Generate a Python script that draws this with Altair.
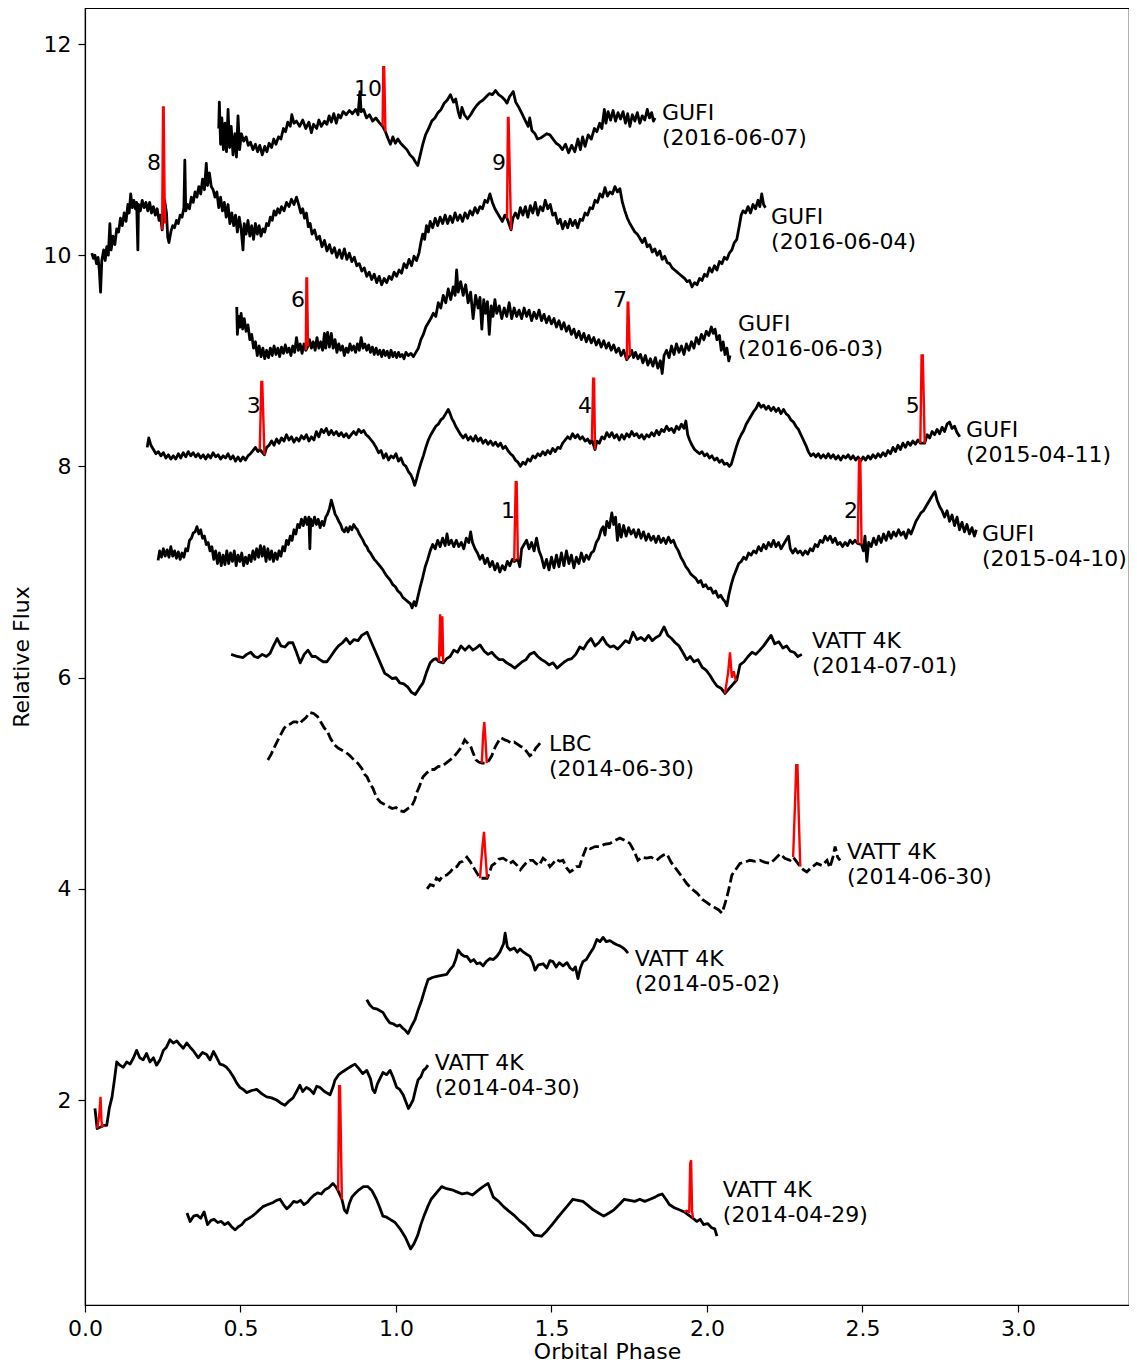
import altair as alt
import pandas as pd

# ---------------- light curves (phase, relative flux) ----------------
gufi_20160607 = [
    (0.430, 11.20), (0.432, 11.45), (0.436, 11.05), (0.440, 11.30), (0.445, 11.00), (0.450, 11.25),
    (0.455, 10.98), (0.460, 11.38), (0.465, 11.02), (0.470, 11.22), (0.476, 10.95), (0.482, 11.15),
    (0.487, 10.93), (0.492, 11.32), (0.497, 11.00), (0.503, 11.15), (0.510, 11.08), (0.518, 11.12),
    (0.525, 11.04), (0.532, 11.07), (0.540, 11.00), (0.548, 11.05), (0.555, 10.98), (0.562, 11.04),
    (0.570, 10.95), (0.578, 11.03), (0.585, 10.98), (0.592, 11.06), (0.600, 11.02), (0.607, 11.10),
    (0.614, 11.05), (0.622, 11.12), (0.630, 11.10), (0.638, 11.20), (0.645, 11.17), (0.652, 11.26),
    (0.660, 11.22), (0.665, 11.33), (0.672, 11.25), (0.680, 11.27), (0.690, 11.22), (0.700, 11.28),
    (0.710, 11.20), (0.720, 11.26), (0.728, 11.16), (0.735, 11.24), (0.745, 11.20), (0.752, 11.28),
    (0.760, 11.22), (0.770, 11.27), (0.778, 11.24), (0.785, 11.32), (0.792, 11.26), (0.800, 11.34),
    (0.808, 11.25), (0.815, 11.33), (0.822, 11.30), (0.830, 11.36), (0.840, 11.33), (0.850, 11.37),
    (0.860, 11.34), (0.870, 11.38), (0.878, 11.33), (0.884, 11.55), (0.888, 11.36), (0.896, 11.38),
    (0.905, 11.30), (0.915, 11.33), (0.925, 11.27), (0.935, 11.30), (0.945, 11.26), (0.957, 11.22),
    (0.966, 11.17), (0.975, 11.10), (0.982, 11.05), (0.990, 11.12), (0.998, 11.06), (1.006, 11.10),
    (1.015, 11.06), (1.025, 11.03), (1.035, 11.00), (1.045, 10.95), (1.055, 10.92), (1.063, 10.88),
    (1.070, 10.85), (1.078, 10.95), (1.087, 11.06), (1.095, 11.14), (1.105, 11.20), (1.115, 11.27),
    (1.125, 11.30), (1.135, 11.35), (1.145, 11.38), (1.155, 11.44), (1.165, 11.47), (1.175, 11.52),
    (1.185, 11.45), (1.192, 11.48), (1.200, 11.36), (1.206, 11.30), (1.212, 11.40), (1.220, 11.33),
    (1.230, 11.29), (1.240, 11.33), (1.250, 11.38), (1.260, 11.42), (1.270, 11.45), (1.280, 11.47),
    (1.290, 11.50), (1.300, 11.53), (1.310, 11.52), (1.320, 11.56), (1.330, 11.52), (1.340, 11.50),
    (1.350, 11.47), (1.357, 11.44), (1.365, 11.50), (1.377, 11.55), (1.385, 11.45), (1.395, 11.40),
    (1.405, 11.34), (1.415, 11.28), (1.425, 11.22), (1.430, 11.30), (1.437, 11.18), (1.447, 11.15),
    (1.455, 11.10), (1.465, 11.11), (1.475, 11.13), (1.485, 11.15), (1.495, 11.14), (1.505, 11.10),
    (1.515, 11.06), (1.525, 11.04), (1.535, 11.00), (1.545, 11.05), (1.555, 10.97), (1.565, 11.04),
    (1.575, 10.98), (1.585, 11.10), (1.593, 11.00), (1.600, 11.12), (1.608, 11.03), (1.618, 11.14),
    (1.628, 11.10), (1.638, 11.20), (1.646, 11.17), (1.655, 11.25), (1.662, 11.20), (1.670, 11.38),
    (1.675, 11.25), (1.682, 11.36), (1.690, 11.28), (1.698, 11.37), (1.706, 11.27), (1.714, 11.35),
    (1.722, 11.29), (1.730, 11.36), (1.738, 11.25), (1.745, 11.34), (1.752, 11.22), (1.760, 11.33),
    (1.768, 11.27), (1.776, 11.35), (1.784, 11.25), (1.792, 11.32), (1.800, 11.28), (1.808, 11.38),
    (1.815, 11.30), (1.822, 11.35), (1.828, 11.27), (1.833, 11.30),
]

gufi_20160604 = [
    (0.022, 10.02), (0.027, 9.97), (0.032, 10.00), (0.037, 9.92), (0.042, 9.98), (0.046, 9.86),
    (0.050, 9.65), (0.054, 9.95), (0.060, 10.05), (0.065, 9.95), (0.070, 10.08), (0.075, 10.00),
    (0.080, 10.30), (0.084, 10.05), (0.090, 10.18), (0.096, 10.10), (0.102, 10.25), (0.108, 10.22),
    (0.114, 10.35), (0.120, 10.28), (0.126, 10.40), (0.132, 10.32), (0.138, 10.48), (0.142, 10.40),
    (0.147, 10.58), (0.152, 10.45), (0.157, 10.52), (0.162, 10.44), (0.166, 10.50), (0.170, 10.05),
    (0.172, 10.48), (0.178, 10.42), (0.184, 10.52), (0.190, 10.45), (0.196, 10.50), (0.202, 10.42),
    (0.208, 10.50), (0.214, 10.40), (0.220, 10.46), (0.226, 10.38), (0.232, 10.44), (0.238, 10.33),
    (0.243, 10.38), (0.248, 10.24), (0.256, 10.52), (0.262, 10.40), (0.266, 10.17), (0.270, 10.12),
    (0.276, 10.22), (0.282, 10.28), (0.288, 10.26), (0.294, 10.33), (0.300, 10.30), (0.306, 10.38),
    (0.312, 10.36), (0.318, 10.45), (0.321, 10.90), (0.324, 10.42), (0.330, 10.48), (0.336, 10.44),
    (0.342, 10.55), (0.348, 10.50), (0.354, 10.60), (0.360, 10.55), (0.366, 10.65), (0.372, 10.58),
    (0.378, 10.72), (0.384, 10.62), (0.390, 10.87), (0.394, 10.66), (0.400, 10.78), (0.406, 10.65),
    (0.412, 10.62), (0.418, 10.55), (0.424, 10.60), (0.430, 10.45), (0.436, 10.55), (0.442, 10.42),
    (0.448, 10.50), (0.454, 10.36), (0.460, 10.48), (0.466, 10.30), (0.472, 10.40), (0.478, 10.28),
    (0.484, 10.38), (0.490, 10.22), (0.496, 10.36), (0.502, 10.25), (0.508, 10.05), (0.512, 10.30),
    (0.518, 10.20), (0.524, 10.33), (0.530, 10.18), (0.536, 10.28), (0.542, 10.15), (0.548, 10.30),
    (0.554, 10.20), (0.560, 10.28), (0.566, 10.18), (0.572, 10.25), (0.578, 10.22), (0.584, 10.30),
    (0.590, 10.28), (0.596, 10.36), (0.602, 10.33), (0.608, 10.42), (0.614, 10.38), (0.620, 10.44),
    (0.626, 10.40), (0.632, 10.46), (0.640, 10.42), (0.648, 10.50), (0.656, 10.46), (0.664, 10.53),
    (0.672, 10.48), (0.680, 10.55), (0.688, 10.47), (0.694, 10.40), (0.700, 10.44), (0.706, 10.35),
    (0.712, 10.40), (0.718, 10.27), (0.724, 10.30), (0.730, 10.20), (0.738, 10.24), (0.746, 10.15),
    (0.754, 10.18), (0.762, 10.08), (0.770, 10.14), (0.778, 10.04), (0.786, 10.10), (0.794, 10.02),
    (0.802, 10.07), (0.810, 9.98), (0.818, 10.05), (0.826, 9.97), (0.834, 10.06), (0.842, 9.96),
    (0.850, 10.02), (0.858, 9.94), (0.866, 9.98), (0.874, 9.90), (0.882, 9.92), (0.890, 9.85),
    (0.898, 9.88), (0.906, 9.80), (0.914, 9.84), (0.922, 9.77), (0.930, 9.82), (0.938, 9.74),
    (0.946, 9.80), (0.954, 9.72), (0.962, 9.78), (0.970, 9.74), (0.978, 9.80), (0.986, 9.77),
    (0.994, 9.84), (1.002, 9.80), (1.010, 9.86), (1.018, 9.83), (1.026, 9.92), (1.034, 9.88),
    (1.042, 9.96), (1.050, 9.90), (1.058, 9.99), (1.066, 9.95), (1.074, 10.02), (1.080, 10.12),
    (1.086, 10.20), (1.092, 10.15), (1.098, 10.28), (1.104, 10.22), (1.110, 10.32), (1.118, 10.26),
    (1.126, 10.35), (1.134, 10.28), (1.142, 10.36), (1.150, 10.30), (1.158, 10.38), (1.166, 10.30),
    (1.174, 10.37), (1.182, 10.31), (1.190, 10.40), (1.198, 10.33), (1.206, 10.38), (1.214, 10.32),
    (1.222, 10.40), (1.230, 10.35), (1.238, 10.42), (1.246, 10.38), (1.254, 10.45), (1.262, 10.40),
    (1.270, 10.46), (1.278, 10.44), (1.286, 10.52), (1.294, 10.50), (1.302, 10.58), (1.310, 10.50),
    (1.318, 10.44), (1.326, 10.40), (1.334, 10.36), (1.342, 10.32), (1.350, 10.38), (1.357, 10.35),
    (1.370, 10.24), (1.376, 10.35), (1.384, 10.40), (1.392, 10.35), (1.400, 10.45), (1.408, 10.38),
    (1.416, 10.46), (1.424, 10.36), (1.432, 10.47), (1.440, 10.40), (1.448, 10.50), (1.456, 10.38),
    (1.464, 10.46), (1.472, 10.42), (1.480, 10.52), (1.488, 10.44), (1.496, 10.48), (1.504, 10.38),
    (1.512, 10.40), (1.520, 10.30), (1.528, 10.34), (1.536, 10.25), (1.544, 10.32), (1.552, 10.26),
    (1.560, 10.34), (1.568, 10.28), (1.576, 10.33), (1.584, 10.26), (1.592, 10.34), (1.600, 10.33),
    (1.608, 10.40), (1.616, 10.38), (1.624, 10.45), (1.632, 10.44), (1.640, 10.52), (1.648, 10.50),
    (1.656, 10.58), (1.664, 10.55), (1.672, 10.64), (1.680, 10.56), (1.688, 10.60), (1.696, 10.58),
    (1.704, 10.65), (1.712, 10.60), (1.720, 10.63), (1.728, 10.50), (1.736, 10.42), (1.744, 10.35),
    (1.752, 10.30), (1.760, 10.26), (1.768, 10.22), (1.776, 10.20), (1.784, 10.16), (1.792, 10.12),
    (1.800, 10.16), (1.808, 10.08), (1.816, 10.10), (1.824, 10.03), (1.832, 10.06), (1.840, 10.00),
    (1.848, 10.04), (1.856, 9.96), (1.864, 9.99), (1.872, 9.93), (1.880, 9.92), (1.888, 9.88),
    (1.896, 9.86), (1.904, 9.84), (1.912, 9.82), (1.920, 9.80), (1.928, 9.78), (1.936, 9.75),
    (1.944, 9.76), (1.952, 9.70), (1.960, 9.74), (1.968, 9.72), (1.976, 9.78), (1.984, 9.76),
    (1.992, 9.82), (2.000, 9.80), (2.008, 9.88), (2.016, 9.84), (2.024, 9.90), (2.032, 9.86),
    (2.040, 9.94), (2.048, 9.92), (2.056, 9.98), (2.064, 9.96), (2.072, 10.02), (2.080, 10.05),
    (2.088, 10.12), (2.096, 10.15), (2.104, 10.28), (2.110, 10.38), (2.116, 10.42), (2.124, 10.40),
    (2.132, 10.46), (2.140, 10.40), (2.148, 10.48), (2.156, 10.44), (2.164, 10.52), (2.170, 10.46),
    (2.176, 10.58), (2.182, 10.48), (2.188, 10.45),
]

gufi_20160603 = [
    (0.488, 9.51), (0.490, 9.25), (0.494, 9.42), (0.498, 9.32), (0.502, 9.45), (0.507, 9.30),
    (0.512, 9.40), (0.518, 9.28), (0.524, 9.34), (0.530, 9.20), (0.536, 9.25), (0.542, 9.12),
    (0.548, 9.18), (0.554, 9.05), (0.560, 9.14), (0.566, 9.04), (0.572, 9.12), (0.578, 9.02),
    (0.584, 9.10), (0.590, 9.03), (0.596, 9.12), (0.602, 9.05), (0.608, 9.14), (0.614, 9.06),
    (0.620, 9.12), (0.626, 9.04), (0.632, 9.13), (0.638, 9.07), (0.644, 9.15), (0.650, 9.08),
    (0.656, 9.12), (0.662, 9.05), (0.668, 9.14), (0.674, 9.08), (0.680, 9.22), (0.686, 9.10),
    (0.692, 9.16), (0.698, 9.07), (0.704, 9.16), (0.710, 9.10), (0.717, 9.14), (0.722, 9.20),
    (0.728, 9.12), (0.734, 9.18), (0.740, 9.10), (0.746, 9.22), (0.752, 9.12), (0.758, 9.18),
    (0.764, 9.10), (0.770, 9.26), (0.774, 9.12), (0.780, 9.27), (0.786, 9.13), (0.792, 9.26),
    (0.798, 9.12), (0.804, 9.20), (0.810, 9.08), (0.816, 9.16), (0.822, 9.10), (0.828, 9.14),
    (0.834, 9.05), (0.840, 9.12), (0.846, 9.08), (0.852, 9.16), (0.858, 9.10), (0.864, 9.14),
    (0.870, 9.08), (0.876, 9.16), (0.882, 9.10), (0.888, 9.22), (0.894, 9.12), (0.900, 9.16),
    (0.906, 9.10), (0.912, 9.15), (0.918, 9.08), (0.924, 9.13), (0.930, 9.06), (0.936, 9.12),
    (0.942, 9.06), (0.948, 9.10), (0.954, 9.04), (0.960, 9.10), (0.966, 9.05), (0.972, 9.09),
    (0.978, 9.03), (0.984, 9.10), (0.990, 9.04), (0.996, 9.08), (1.002, 9.03), (1.008, 9.08),
    (1.014, 9.04), (1.020, 9.06), (1.026, 9.02), (1.032, 9.08), (1.040, 9.05), (1.048, 9.07),
    (1.056, 9.04), (1.064, 9.08), (1.072, 9.12), (1.080, 9.20), (1.088, 9.25), (1.096, 9.32),
    (1.104, 9.36), (1.112, 9.40), (1.120, 9.45), (1.128, 9.42), (1.136, 9.55), (1.144, 9.50),
    (1.152, 9.62), (1.160, 9.55), (1.168, 9.68), (1.176, 9.58), (1.184, 9.70), (1.190, 9.62),
    (1.195, 9.86), (1.200, 9.65), (1.208, 9.75), (1.216, 9.62), (1.224, 9.72), (1.232, 9.55),
    (1.240, 9.65), (1.248, 9.40), (1.256, 9.62), (1.264, 9.50), (1.270, 9.60), (1.276, 9.30),
    (1.282, 9.58), (1.288, 9.45), (1.294, 9.56), (1.300, 9.25), (1.306, 9.52), (1.312, 9.42),
    (1.318, 9.58), (1.324, 9.45), (1.332, 9.52), (1.340, 9.40), (1.348, 9.50), (1.356, 9.42),
    (1.364, 9.55), (1.372, 9.40), (1.380, 9.50), (1.388, 9.42), (1.396, 9.48), (1.404, 9.40),
    (1.412, 9.50), (1.420, 9.42), (1.428, 9.48), (1.436, 9.38), (1.444, 9.46), (1.452, 9.40),
    (1.460, 9.48), (1.468, 9.38), (1.476, 9.44), (1.484, 9.36), (1.492, 9.42), (1.500, 9.35),
    (1.508, 9.40), (1.516, 9.32), (1.524, 9.38), (1.532, 9.30), (1.540, 9.36), (1.548, 9.28),
    (1.556, 9.33), (1.564, 9.25), (1.572, 9.30), (1.580, 9.22), (1.588, 9.28), (1.596, 9.20),
    (1.604, 9.26), (1.612, 9.18), (1.620, 9.24), (1.628, 9.17), (1.636, 9.22), (1.644, 9.15),
    (1.652, 9.20), (1.660, 9.13), (1.668, 9.19), (1.676, 9.12), (1.684, 9.17), (1.692, 9.10),
    (1.700, 9.15), (1.708, 9.08), (1.716, 9.12), (1.724, 9.05), (1.732, 9.10), (1.742, 9.01),
    (1.752, 9.05), (1.758, 9.10), (1.764, 9.03), (1.770, 9.08), (1.778, 9.02), (1.786, 9.06),
    (1.794, 8.98), (1.802, 9.05), (1.810, 8.96), (1.818, 9.02), (1.826, 8.95), (1.834, 9.03),
    (1.842, 8.93), (1.850, 9.00), (1.856, 8.88), (1.862, 9.05), (1.870, 9.10), (1.878, 9.03),
    (1.886, 9.14), (1.894, 9.06), (1.902, 9.16), (1.910, 9.08), (1.918, 9.14), (1.926, 9.06),
    (1.934, 9.16), (1.942, 9.10), (1.950, 9.18), (1.958, 9.12), (1.966, 9.22), (1.974, 9.16),
    (1.982, 9.25), (1.990, 9.20), (1.998, 9.28), (2.006, 9.24), (2.014, 9.32), (2.020, 9.26),
    (2.026, 9.30), (2.032, 9.20), (2.040, 9.24), (2.046, 9.10), (2.052, 9.18), (2.058, 9.06),
    (2.064, 9.12), (2.070, 9.00), (2.074, 9.05),
]

gufi_20150411 = [
    (0.200, 8.18), (0.205, 8.27), (0.212, 8.20), (0.220, 8.16), (0.228, 8.12), (0.236, 8.14),
    (0.244, 8.10), (0.252, 8.13), (0.260, 8.08), (0.268, 8.11), (0.276, 8.07), (0.284, 8.10),
    (0.292, 8.07), (0.300, 8.12), (0.308, 8.08), (0.316, 8.13), (0.324, 8.09), (0.332, 8.14),
    (0.340, 8.10), (0.348, 8.13), (0.356, 8.09), (0.364, 8.12), (0.372, 8.08), (0.380, 8.11),
    (0.388, 8.07), (0.396, 8.11), (0.404, 8.08), (0.412, 8.13), (0.420, 8.09), (0.428, 8.11),
    (0.436, 8.07), (0.444, 8.10), (0.452, 8.08), (0.460, 8.12), (0.468, 8.07), (0.476, 8.10),
    (0.484, 8.05), (0.492, 8.09), (0.500, 8.05), (0.508, 8.09), (0.516, 8.06), (0.524, 8.10),
    (0.532, 8.12), (0.540, 8.15), (0.548, 8.18), (0.556, 8.14), (0.562, 8.16), (0.577, 8.11),
    (0.584, 8.18), (0.592, 8.20), (0.600, 8.24), (0.608, 8.20), (0.616, 8.26), (0.624, 8.22),
    (0.632, 8.27), (0.640, 8.24), (0.648, 8.30), (0.656, 8.25), (0.664, 8.28), (0.672, 8.23),
    (0.680, 8.27), (0.688, 8.24), (0.696, 8.29), (0.704, 8.26), (0.712, 8.30), (0.720, 8.24),
    (0.728, 8.28), (0.736, 8.25), (0.744, 8.33), (0.752, 8.28), (0.760, 8.35), (0.768, 8.32),
    (0.776, 8.36), (0.784, 8.30), (0.792, 8.34), (0.800, 8.30), (0.808, 8.33), (0.816, 8.29),
    (0.824, 8.32), (0.832, 8.28), (0.840, 8.31), (0.848, 8.27), (0.856, 8.30), (0.864, 8.33),
    (0.872, 8.30), (0.880, 8.35), (0.888, 8.32), (0.896, 8.34), (0.904, 8.30), (0.912, 8.28),
    (0.920, 8.25), (0.928, 8.22), (0.936, 8.18), (0.944, 8.13), (0.952, 8.15), (0.960, 8.08),
    (0.968, 8.12), (0.976, 8.06), (0.984, 8.10), (0.992, 8.08), (1.000, 8.12), (1.008, 8.05),
    (1.016, 8.08), (1.024, 8.02), (1.032, 8.00), (1.040, 7.95), (1.048, 7.92), (1.054, 7.88),
    (1.060, 7.82), (1.066, 7.88), (1.072, 7.95), (1.080, 8.03), (1.088, 8.10), (1.096, 8.18),
    (1.104, 8.25), (1.112, 8.30), (1.120, 8.34), (1.128, 8.38), (1.136, 8.40), (1.144, 8.44),
    (1.152, 8.46), (1.160, 8.50), (1.168, 8.54), (1.174, 8.50), (1.180, 8.45), (1.186, 8.42),
    (1.192, 8.38), (1.200, 8.34), (1.208, 8.30), (1.216, 8.27), (1.224, 8.30), (1.232, 8.25),
    (1.240, 8.28), (1.248, 8.24), (1.256, 8.29), (1.264, 8.24), (1.272, 8.27), (1.280, 8.22),
    (1.288, 8.25), (1.296, 8.21), (1.304, 8.24), (1.312, 8.20), (1.320, 8.23), (1.328, 8.19),
    (1.336, 8.22), (1.344, 8.17), (1.352, 8.19), (1.360, 8.15), (1.368, 8.12), (1.376, 8.10),
    (1.384, 8.06), (1.392, 8.04), (1.400, 8.00), (1.408, 8.04), (1.416, 8.02), (1.424, 8.07),
    (1.432, 8.05), (1.440, 8.10), (1.448, 8.08), (1.456, 8.12), (1.464, 8.10), (1.472, 8.14),
    (1.480, 8.11), (1.488, 8.15), (1.496, 8.12), (1.504, 8.17), (1.512, 8.14), (1.520, 8.18),
    (1.528, 8.17), (1.536, 8.22), (1.544, 8.25), (1.552, 8.28), (1.560, 8.26), (1.568, 8.31),
    (1.576, 8.27), (1.584, 8.30), (1.592, 8.26), (1.600, 8.28), (1.608, 8.24), (1.616, 8.26),
    (1.624, 8.22), (1.630, 8.25), (1.640, 8.16), (1.646, 8.24), (1.654, 8.22), (1.662, 8.28),
    (1.670, 8.26), (1.678, 8.32), (1.686, 8.28), (1.694, 8.32), (1.702, 8.27), (1.710, 8.30),
    (1.718, 8.25), (1.726, 8.30), (1.734, 8.26), (1.742, 8.31), (1.750, 8.28), (1.758, 8.33),
    (1.766, 8.29), (1.774, 8.31), (1.782, 8.27), (1.790, 8.30), (1.798, 8.26), (1.806, 8.30),
    (1.814, 8.28), (1.822, 8.32), (1.830, 8.29), (1.838, 8.34), (1.846, 8.30), (1.854, 8.35),
    (1.862, 8.33), (1.870, 8.38), (1.878, 8.34), (1.886, 8.36), (1.894, 8.32), (1.902, 8.38),
    (1.910, 8.35), (1.918, 8.40), (1.926, 8.36), (1.932, 8.43), (1.938, 8.30), (1.944, 8.25),
    (1.952, 8.20), (1.960, 8.16), (1.968, 8.14), (1.976, 8.12), (1.984, 8.14), (1.992, 8.10),
    (2.000, 8.12), (2.008, 8.08), (2.016, 8.10), (2.024, 8.06), (2.032, 8.08), (2.040, 8.04),
    (2.048, 8.06), (2.056, 8.02), (2.064, 8.03), (2.072, 8.00), (2.078, 8.02), (2.086, 8.10),
    (2.094, 8.18), (2.102, 8.25), (2.110, 8.30), (2.118, 8.34), (2.126, 8.40), (2.134, 8.44),
    (2.142, 8.48), (2.150, 8.52), (2.158, 8.55), (2.166, 8.60), (2.174, 8.56), (2.182, 8.58),
    (2.190, 8.54), (2.198, 8.57), (2.206, 8.53), (2.214, 8.56), (2.222, 8.52), (2.230, 8.55),
    (2.238, 8.50), (2.246, 8.54), (2.254, 8.50), (2.262, 8.48), (2.270, 8.44), (2.278, 8.42),
    (2.286, 8.38), (2.294, 8.35), (2.302, 8.30), (2.310, 8.25), (2.318, 8.20), (2.326, 8.14),
    (2.334, 8.10), (2.342, 8.12), (2.350, 8.09), (2.358, 8.12), (2.366, 8.08), (2.374, 8.11),
    (2.382, 8.08), (2.390, 8.12), (2.398, 8.08), (2.406, 8.11), (2.414, 8.07), (2.422, 8.10),
    (2.430, 8.06), (2.438, 8.10), (2.446, 8.08), (2.454, 8.11), (2.462, 8.07), (2.470, 8.10),
    (2.478, 8.06), (2.486, 8.09), (2.494, 8.05), (2.502, 8.09), (2.510, 8.06), (2.518, 8.10),
    (2.526, 8.07), (2.534, 8.11), (2.542, 8.08), (2.550, 8.12), (2.558, 8.09), (2.566, 8.13),
    (2.574, 8.10), (2.582, 8.15), (2.590, 8.12), (2.598, 8.18), (2.606, 8.14), (2.614, 8.20),
    (2.622, 8.16), (2.630, 8.22), (2.638, 8.18), (2.646, 8.23), (2.654, 8.20), (2.662, 8.24),
    (2.670, 8.21), (2.678, 8.25), (2.686, 8.22), (2.700, 8.22), (2.708, 8.30), (2.716, 8.27),
    (2.724, 8.33), (2.732, 8.30), (2.740, 8.35), (2.748, 8.31), (2.756, 8.37), (2.764, 8.33),
    (2.772, 8.40), (2.780, 8.42), (2.788, 8.36), (2.796, 8.38), (2.804, 8.32), (2.813, 8.28),
]

gufi_20150410 = [
    (0.235, 7.11), (0.240, 7.20), (0.246, 7.14), (0.252, 7.22), (0.258, 7.15), (0.264, 7.21),
    (0.270, 7.14), (0.276, 7.24), (0.282, 7.15), (0.288, 7.20), (0.294, 7.13), (0.300, 7.19),
    (0.306, 7.12), (0.312, 7.18), (0.318, 7.14), (0.324, 7.22), (0.330, 7.20), (0.336, 7.30),
    (0.342, 7.32), (0.348, 7.37), (0.354, 7.38), (0.360, 7.43), (0.366, 7.36), (0.372, 7.40),
    (0.378, 7.32), (0.384, 7.34), (0.390, 7.26), (0.396, 7.28), (0.402, 7.20), (0.408, 7.24),
    (0.414, 7.12), (0.420, 7.20), (0.426, 7.08), (0.432, 7.18), (0.438, 7.06), (0.444, 7.16),
    (0.450, 7.07), (0.456, 7.20), (0.462, 7.08), (0.468, 7.18), (0.474, 7.10), (0.480, 7.20),
    (0.486, 7.06), (0.492, 7.16), (0.498, 7.10), (0.504, 7.18), (0.510, 7.06), (0.516, 7.14),
    (0.522, 7.08), (0.528, 7.16), (0.534, 7.10), (0.540, 7.20), (0.546, 7.12), (0.552, 7.22),
    (0.558, 7.14), (0.564, 7.25), (0.570, 7.15), (0.576, 7.24), (0.582, 7.10), (0.588, 7.22),
    (0.594, 7.12), (0.600, 7.20), (0.606, 7.10), (0.612, 7.18), (0.618, 7.12), (0.624, 7.20),
    (0.630, 7.15), (0.636, 7.24), (0.642, 7.20), (0.648, 7.30), (0.654, 7.26), (0.660, 7.34),
    (0.666, 7.30), (0.672, 7.40), (0.678, 7.36), (0.684, 7.45), (0.690, 7.42), (0.696, 7.50),
    (0.702, 7.44), (0.708, 7.52), (0.714, 7.45), (0.720, 7.52), (0.723, 7.22), (0.726, 7.50),
    (0.732, 7.44), (0.738, 7.52), (0.744, 7.45), (0.750, 7.50), (0.756, 7.42), (0.762, 7.48),
    (0.768, 7.44), (0.774, 7.52), (0.780, 7.55), (0.786, 7.60), (0.792, 7.68), (0.798, 7.62),
    (0.804, 7.55), (0.810, 7.52), (0.816, 7.48), (0.822, 7.45), (0.828, 7.40), (0.834, 7.38),
    (0.840, 7.42), (0.846, 7.38), (0.852, 7.43), (0.858, 7.40), (0.864, 7.45), (0.870, 7.42),
    (0.876, 7.40), (0.882, 7.36), (0.888, 7.33), (0.894, 7.30), (0.900, 7.26), (0.906, 7.24),
    (0.912, 7.20), (0.918, 7.18), (0.924, 7.15), (0.930, 7.12), (0.936, 7.10), (0.942, 7.08),
    (0.950, 7.05), (0.958, 7.02), (0.966, 6.98), (0.974, 6.95), (0.982, 6.92), (0.990, 6.88),
    (0.998, 6.86), (1.006, 6.82), (1.014, 6.80), (1.022, 6.76), (1.030, 6.74), (1.038, 6.72),
    (1.046, 6.70), (1.052, 6.66), (1.058, 6.72), (1.064, 6.68), (1.070, 6.76), (1.078, 6.86),
    (1.086, 6.95), (1.094, 7.05), (1.102, 7.12), (1.110, 7.20), (1.118, 7.26), (1.126, 7.22),
    (1.134, 7.30), (1.142, 7.24), (1.150, 7.32), (1.158, 7.25), (1.164, 7.36), (1.170, 7.26),
    (1.178, 7.30), (1.186, 7.24), (1.194, 7.30), (1.202, 7.24), (1.210, 7.28), (1.218, 7.22),
    (1.226, 7.32), (1.234, 7.28), (1.240, 7.38), (1.246, 7.28), (1.254, 7.22), (1.262, 7.18),
    (1.270, 7.12), (1.278, 7.16), (1.286, 7.08), (1.294, 7.13), (1.302, 7.05), (1.310, 7.10),
    (1.318, 7.02), (1.326, 7.08), (1.334, 7.00), (1.342, 7.06), (1.350, 7.02), (1.358, 7.10),
    (1.366, 7.06), (1.374, 7.12), (1.380, 7.10), (1.392, 7.12), (1.398, 7.05), (1.404, 7.22),
    (1.412, 7.26), (1.420, 7.30), (1.428, 7.22), (1.436, 7.28), (1.444, 7.20), (1.452, 7.32),
    (1.460, 7.20), (1.468, 7.14), (1.476, 7.04), (1.484, 7.12), (1.492, 7.02), (1.500, 7.14),
    (1.508, 7.04), (1.516, 7.16), (1.524, 7.05), (1.532, 7.18), (1.540, 7.06), (1.548, 7.20),
    (1.556, 7.08), (1.564, 7.16), (1.572, 7.04), (1.580, 7.14), (1.588, 7.08), (1.596, 7.18),
    (1.604, 7.10), (1.612, 7.16), (1.620, 7.12), (1.628, 7.18), (1.636, 7.20), (1.644, 7.28),
    (1.652, 7.32), (1.660, 7.40), (1.666, 7.43), (1.672, 7.35), (1.678, 7.48), (1.686, 7.42),
    (1.694, 7.56), (1.700, 7.45), (1.706, 7.52), (1.712, 7.30), (1.718, 7.45), (1.724, 7.33),
    (1.732, 7.44), (1.740, 7.34), (1.748, 7.42), (1.756, 7.36), (1.764, 7.40), (1.772, 7.33),
    (1.780, 7.40), (1.788, 7.32), (1.796, 7.38), (1.804, 7.30), (1.812, 7.36), (1.820, 7.30),
    (1.828, 7.34), (1.836, 7.28), (1.844, 7.34), (1.852, 7.28), (1.860, 7.32), (1.868, 7.27),
    (1.876, 7.33), (1.884, 7.28), (1.892, 7.30), (1.900, 7.24), (1.908, 7.20), (1.916, 7.14),
    (1.924, 7.10), (1.932, 7.05), (1.940, 7.02), (1.948, 6.98), (1.956, 6.96), (1.964, 6.94),
    (1.972, 6.90), (1.980, 6.92), (1.988, 6.86), (1.996, 6.88), (2.004, 6.84), (2.012, 6.85),
    (2.020, 6.80), (2.028, 6.82), (2.036, 6.76), (2.044, 6.78), (2.052, 6.74), (2.058, 6.72),
    (2.064, 6.68), (2.070, 6.78), (2.078, 6.88), (2.086, 6.96), (2.094, 7.02), (2.102, 7.08),
    (2.110, 7.10), (2.118, 7.14), (2.126, 7.12), (2.134, 7.18), (2.142, 7.16), (2.150, 7.20),
    (2.158, 7.18), (2.166, 7.24), (2.174, 7.20), (2.182, 7.26), (2.190, 7.22), (2.198, 7.28),
    (2.206, 7.24), (2.214, 7.30), (2.222, 7.24), (2.230, 7.28), (2.238, 7.22), (2.246, 7.26),
    (2.254, 7.30), (2.262, 7.34), (2.268, 7.22), (2.276, 7.18), (2.284, 7.22), (2.292, 7.18),
    (2.300, 7.20), (2.308, 7.16), (2.316, 7.20), (2.324, 7.17), (2.332, 7.22), (2.340, 7.20),
    (2.348, 7.26), (2.356, 7.24), (2.364, 7.30), (2.372, 7.28), (2.380, 7.34), (2.388, 7.30),
    (2.396, 7.34), (2.404, 7.28), (2.412, 7.32), (2.420, 7.26), (2.428, 7.28), (2.436, 7.24),
    (2.444, 7.28), (2.452, 7.25), (2.460, 7.30), (2.468, 7.27), (2.476, 7.30), (2.485, 7.27),
    (2.497, 7.26), (2.503, 7.20), (2.508, 7.34), (2.514, 7.10), (2.520, 7.28), (2.528, 7.24),
    (2.536, 7.32), (2.544, 7.26), (2.552, 7.34), (2.560, 7.28), (2.568, 7.36), (2.576, 7.30),
    (2.584, 7.38), (2.592, 7.32), (2.600, 7.38), (2.608, 7.34), (2.616, 7.40), (2.624, 7.35),
    (2.632, 7.38), (2.640, 7.32), (2.648, 7.40), (2.656, 7.36), (2.664, 7.42), (2.672, 7.48),
    (2.680, 7.52), (2.688, 7.56), (2.696, 7.58), (2.704, 7.62), (2.712, 7.66), (2.720, 7.70),
    (2.728, 7.74), (2.733, 7.76), (2.740, 7.68), (2.748, 7.62), (2.756, 7.58), (2.764, 7.52),
    (2.772, 7.58), (2.780, 7.48), (2.788, 7.54), (2.796, 7.44), (2.804, 7.52), (2.812, 7.40),
    (2.820, 7.47), (2.828, 7.38), (2.836, 7.45), (2.844, 7.36), (2.852, 7.42), (2.860, 7.34),
    (2.866, 7.40),
]

vatt_20140701 = [
    (0.470, 6.22), (0.490, 6.20), (0.508, 6.19), (0.520, 6.22), (0.533, 6.24), (0.545, 6.20),
    (0.556, 6.19), (0.570, 6.22), (0.583, 6.20), (0.595, 6.23), (0.606, 6.30), (0.618, 6.37),
    (0.630, 6.30), (0.643, 6.29), (0.655, 6.33), (0.668, 6.33), (0.680, 6.24), (0.692, 6.14),
    (0.705, 6.22), (0.717, 6.26), (0.730, 6.20), (0.742, 6.20), (0.755, 6.17), (0.766, 6.15),
    (0.778, 6.15), (0.790, 6.20), (0.804, 6.26), (0.815, 6.30), (0.828, 6.33), (0.840, 6.37),
    (0.852, 6.32), (0.865, 6.36), (0.878, 6.35), (0.890, 6.40), (0.907, 6.43), (0.964, 6.04),
    (0.975, 6.02), (0.988, 5.99), (1.000, 6.00), (1.012, 5.95), (1.025, 5.94), (1.038, 5.91),
    (1.050, 5.86), (1.062, 5.84), (1.075, 5.90), (1.087, 5.95), (1.098, 6.05), (1.110, 6.14),
    (1.120, 6.17), (1.129, 6.18), (1.138, 6.15), (1.152, 6.14), (1.163, 6.18), (1.174, 6.20),
    (1.186, 6.26), (1.198, 6.24), (1.209, 6.30), (1.222, 6.26), (1.235, 6.30), (1.247, 6.26),
    (1.258, 6.28), (1.270, 6.31), (1.284, 6.25), (1.296, 6.22), (1.308, 6.24), (1.320, 6.20),
    (1.332, 6.17), (1.344, 6.17), (1.356, 6.14), (1.368, 6.12), (1.382, 6.09), (1.394, 6.12),
    (1.406, 6.15), (1.418, 6.17), (1.430, 6.22), (1.444, 6.24), (1.456, 6.20), (1.468, 6.17),
    (1.480, 6.15), (1.492, 6.12), (1.505, 6.14), (1.518, 6.09), (1.530, 6.12), (1.542, 6.15),
    (1.553, 6.17), (1.565, 6.18), (1.578, 6.22), (1.591, 6.29), (1.603, 6.27), (1.615, 6.33),
    (1.627, 6.37), (1.640, 6.30), (1.652, 6.33), (1.665, 6.38), (1.677, 6.32), (1.689, 6.29),
    (1.700, 6.30), (1.713, 6.27), (1.726, 6.31), (1.738, 6.35), (1.750, 6.33), (1.762, 6.43),
    (1.775, 6.36), (1.788, 6.38), (1.800, 6.35), (1.812, 6.40), (1.824, 6.35), (1.836, 6.38),
    (1.848, 6.40), (1.862, 6.48), (1.874, 6.40), (1.886, 6.37), (1.898, 6.33), (1.910, 6.30),
    (1.922, 6.24), (1.935, 6.17), (1.946, 6.20), (1.958, 6.15), (1.971, 6.17), (1.984, 6.10),
    (1.997, 6.07), (2.010, 6.02), (2.020, 5.97), (2.032, 5.92), (2.045, 5.90), (2.058, 5.85),
    (2.096, 5.98), (2.106, 6.12), (2.119, 6.15), (2.132, 6.20), (2.145, 6.24), (2.157, 6.22),
    (2.170, 6.26), (2.182, 6.30), (2.194, 6.35), (2.206, 6.40), (2.218, 6.32), (2.231, 6.34),
    (2.244, 6.28), (2.256, 6.30), (2.268, 6.25), (2.280, 6.24), (2.292, 6.20), (2.305, 6.22),
]

lbc_20140630 = [
    (0.588, 5.22), (0.598, 5.27), (0.607, 5.33), (0.619, 5.40), (0.631, 5.47), (0.640, 5.52),
    (0.650, 5.55), (0.660, 5.56), (0.670, 5.58), (0.680, 5.58), (0.690, 5.56), (0.698, 5.59),
    (0.710, 5.62), (0.723, 5.67), (0.735, 5.66), (0.748, 5.63), (0.760, 5.57), (0.770, 5.52),
    (0.778, 5.50), (0.790, 5.42), (0.803, 5.36), (0.815, 5.33), (0.828, 5.31), (0.840, 5.29),
    (0.852, 5.26), (0.865, 5.22), (0.877, 5.19), (0.890, 5.14), (0.900, 5.08), (0.907, 5.06),
    (0.916, 5.00), (0.926, 4.95), (0.938, 4.86), (0.950, 4.82), (0.962, 4.80), (0.975, 4.78),
    (0.988, 4.76), (1.000, 4.77), (1.012, 4.74), (1.025, 4.73), (1.038, 4.76), (1.050, 4.78),
    (1.060, 4.84), (1.068, 4.92), (1.074, 4.96), (1.087, 5.06), (1.100, 5.10), (1.112, 5.13),
    (1.123, 5.13), (1.136, 5.16), (1.148, 5.16), (1.161, 5.19), (1.174, 5.22), (1.186, 5.25),
    (1.197, 5.29), (1.210, 5.34), (1.221, 5.41), (1.230, 5.38), (1.240, 5.35), (1.249, 5.28),
    (1.257, 5.22), (1.266, 5.20), (1.276, 5.19), (1.292, 5.19), (1.300, 5.22), (1.308, 5.26),
    (1.320, 5.35), (1.330, 5.40), (1.337, 5.43), (1.350, 5.41), (1.360, 5.40), (1.369, 5.38),
    (1.380, 5.39), (1.390, 5.37), (1.400, 5.35), (1.412, 5.33), (1.420, 5.30), (1.430, 5.26),
    (1.440, 5.28), (1.449, 5.33), (1.458, 5.36), (1.466, 5.39),
]

vatt_20140630 = [
    (1.100, 4.00), (1.110, 4.04), (1.120, 4.03), (1.130, 4.10), (1.140, 4.08), (1.150, 4.12),
    (1.163, 4.13), (1.175, 4.16), (1.185, 4.20), (1.196, 4.21), (1.205, 4.25), (1.215, 4.26),
    (1.228, 4.30), (1.238, 4.26), (1.248, 4.21), (1.258, 4.16), (1.270, 4.10), (1.293, 4.10),
    (1.300, 4.15), (1.308, 4.22), (1.318, 4.24), (1.330, 4.28), (1.344, 4.29), (1.355, 4.27),
    (1.365, 4.24), (1.376, 4.26), (1.390, 4.22), (1.400, 4.18), (1.408, 4.21), (1.420, 4.25),
    (1.430, 4.27), (1.440, 4.27), (1.450, 4.24), (1.460, 4.22), (1.473, 4.29), (1.485, 4.26),
    (1.495, 4.21), (1.505, 4.24), (1.515, 4.28), (1.527, 4.26), (1.537, 4.27), (1.548, 4.20),
    (1.559, 4.16), (1.570, 4.18), (1.580, 4.21), (1.590, 4.21), (1.600, 4.30), (1.613, 4.40),
    (1.625, 4.38), (1.640, 4.40), (1.656, 4.40), (1.670, 4.42), (1.688, 4.43), (1.700, 4.45),
    (1.712, 4.47), (1.720, 4.48), (1.735, 4.46), (1.752, 4.43), (1.765, 4.36), (1.778, 4.27),
    (1.790, 4.30), (1.806, 4.29), (1.820, 4.30), (1.838, 4.27), (1.850, 4.30), (1.860, 4.32),
    (1.871, 4.33), (1.885, 4.25), (1.903, 4.18), (1.918, 4.12), (1.935, 4.05), (1.950, 4.00),
    (1.968, 3.96), (1.985, 3.90), (2.000, 3.87), (2.013, 3.84), (2.026, 3.82), (2.038, 3.80),
    (2.048, 3.77), (2.056, 3.84), (2.064, 3.92), (2.072, 4.02), (2.080, 4.13), (2.092, 4.18),
    (2.106, 4.24), (2.120, 4.25), (2.138, 4.27), (2.155, 4.26), (2.170, 4.27), (2.187, 4.25),
    (2.203, 4.24), (2.218, 4.28), (2.235, 4.33), (2.250, 4.29), (2.267, 4.27), (2.277, 4.30),
    (2.300, 4.21), (2.310, 4.18), (2.321, 4.16), (2.335, 4.20), (2.353, 4.24), (2.370, 4.22),
    (2.386, 4.27), (2.395, 4.20), (2.405, 4.30), (2.412, 4.40), (2.420, 4.30), (2.428, 4.27),
]

vatt_20140502 = [
    (0.906, 2.95), (0.916, 2.90), (0.926, 2.87), (0.940, 2.86), (0.958, 2.83), (0.970, 2.77),
    (0.980, 2.73), (0.992, 2.72), (1.003, 2.70), (1.012, 2.71), (1.022, 2.68), (1.030, 2.66),
    (1.039, 2.63), (1.050, 2.70), (1.061, 2.76), (1.072, 2.86), (1.083, 2.95), (1.093, 3.05),
    (1.103, 3.14), (1.117, 3.16), (1.131, 3.17), (1.147, 3.18), (1.163, 3.19), (1.175, 3.24),
    (1.184, 3.27), (1.192, 3.33), (1.200, 3.42), (1.210, 3.38), (1.220, 3.36), (1.228, 3.36),
    (1.240, 3.31), (1.250, 3.33), (1.260, 3.29), (1.270, 3.30), (1.280, 3.27), (1.290, 3.31),
    (1.302, 3.34), (1.313, 3.33), (1.324, 3.36), (1.334, 3.40), (1.340, 3.44), (1.346, 3.48),
    (1.351, 3.58), (1.358, 3.45), (1.367, 3.42), (1.380, 3.44), (1.390, 3.40), (1.399, 3.43),
    (1.410, 3.40), (1.420, 3.38), (1.431, 3.36), (1.440, 3.30), (1.447, 3.23), (1.458, 3.28),
    (1.473, 3.29), (1.485, 3.25), (1.495, 3.32), (1.505, 3.31), (1.515, 3.26), (1.525, 3.30),
    (1.537, 3.27), (1.550, 3.30), (1.560, 3.25), (1.569, 3.23), (1.577, 3.26), (1.585, 3.15),
    (1.593, 3.25), (1.601, 3.31), (1.612, 3.33), (1.624, 3.39), (1.635, 3.44), (1.646, 3.52),
    (1.656, 3.50), (1.666, 3.54), (1.676, 3.50), (1.688, 3.51), (1.698, 3.49), (1.710, 3.47),
    (1.720, 3.46), (1.730, 3.44), (1.738, 3.42), (1.746, 3.39),
]

vatt_20140430 = [
    (0.032, 1.92), (0.039, 1.73), (0.062, 1.76), (0.070, 1.76), (0.078, 1.92), (0.087, 2.03),
    (0.095, 2.20), (0.102, 2.36), (0.112, 2.33), (0.123, 2.31), (0.134, 2.36), (0.145, 2.34),
    (0.156, 2.40), (0.166, 2.47), (0.176, 2.40), (0.187, 2.38), (0.198, 2.44), (0.209, 2.36),
    (0.220, 2.40), (0.230, 2.33), (0.241, 2.38), (0.252, 2.47), (0.262, 2.50), (0.273, 2.57),
    (0.284, 2.54), (0.295, 2.56), (0.306, 2.52), (0.316, 2.49), (0.327, 2.54), (0.338, 2.50),
    (0.350, 2.46), (0.364, 2.40), (0.378, 2.45), (0.391, 2.43), (0.402, 2.38), (0.413, 2.46),
    (0.424, 2.40), (0.434, 2.34), (0.445, 2.33), (0.455, 2.31), (0.466, 2.27), (0.477, 2.22),
    (0.488, 2.16), (0.498, 2.12), (0.509, 2.10), (0.520, 2.07), (0.536, 2.09), (0.552, 2.10),
    (0.568, 2.06), (0.584, 2.03), (0.600, 2.02), (0.616, 2.00), (0.630, 1.97), (0.643, 1.95),
    (0.656, 1.99), (0.669, 2.02), (0.680, 2.08), (0.691, 2.14), (0.700, 2.08), (0.712, 2.12),
    (0.723, 2.10), (0.735, 2.06), (0.745, 2.13), (0.755, 2.12), (0.770, 2.08), (0.788, 2.05),
    (0.797, 2.12), (0.804, 2.19), (0.816, 2.24), (0.830, 2.27), (0.845, 2.30), (0.856, 2.32),
    (0.868, 2.34), (0.880, 2.30), (0.893, 2.25), (0.906, 2.28), (0.918, 2.20), (0.925, 2.10),
    (0.932, 2.07), (0.940, 2.15), (0.948, 2.20), (0.958, 2.26), (0.970, 2.24), (0.981, 2.28),
    (0.990, 2.22), (1.002, 2.12), (1.012, 2.10), (1.023, 2.05), (1.032, 1.98), (1.040, 1.92),
    (1.048, 1.96), (1.055, 2.00), (1.063, 2.10), (1.071, 2.19), (1.080, 2.22), (1.088, 2.28),
    (1.096, 2.30), (1.103, 2.33),
]

vatt_20140429 = [
    (0.328, 0.93), (0.338, 0.85), (0.349, 0.90), (0.360, 0.91), (0.372, 0.88), (0.383, 0.94),
    (0.394, 0.82), (0.405, 0.86), (0.415, 0.87), (0.427, 0.84), (0.438, 0.85), (0.449, 0.82),
    (0.460, 0.84), (0.471, 0.80), (0.483, 0.77), (0.493, 0.80), (0.504, 0.82), (0.515, 0.86),
    (0.527, 0.88), (0.538, 0.90), (0.550, 0.93), (0.561, 0.96), (0.572, 0.99), (0.588, 1.01),
    (0.605, 1.03), (0.616, 1.05), (0.627, 1.06), (0.638, 1.01), (0.649, 0.97), (0.660, 1.00),
    (0.671, 1.04), (0.682, 1.03), (0.693, 1.05), (0.704, 1.01), (0.715, 1.03), (0.726, 1.07),
    (0.737, 1.10), (0.748, 1.12), (0.760, 1.11), (0.771, 1.15), (0.784, 1.17), (0.797, 1.21),
    (0.806, 1.18), (0.814, 1.14), (0.826, 1.06), (0.834, 0.96), (0.842, 0.93), (0.850, 1.02),
    (0.858, 1.08), (0.870, 1.12), (0.881, 1.15), (0.895, 1.18), (0.909, 1.18), (0.923, 1.14),
    (0.937, 1.06), (0.948, 0.98), (0.958, 0.90), (0.970, 0.89), (0.981, 0.87), (0.997, 0.84),
    (1.013, 0.78), (1.030, 0.70), (1.047, 0.59), (1.058, 0.64), (1.070, 0.72), (1.080, 0.82),
    (1.091, 0.91), (1.102, 0.99), (1.113, 1.06), (1.130, 1.12), (1.147, 1.18), (1.163, 1.16),
    (1.180, 1.15), (1.196, 1.13), (1.213, 1.11), (1.230, 1.12), (1.246, 1.10), (1.262, 1.14),
    (1.280, 1.18), (1.296, 1.21), (1.304, 1.15), (1.313, 1.08), (1.330, 1.04), (1.346, 0.99),
    (1.362, 0.95), (1.379, 0.91), (1.396, 0.86), (1.413, 0.82), (1.430, 0.77), (1.446, 0.72),
    (1.468, 0.71), (1.485, 0.76), (1.502, 0.82), (1.518, 0.88), (1.535, 0.94), (1.552, 1.00),
    (1.569, 1.06), (1.585, 1.05), (1.601, 1.04), (1.618, 1.00), (1.634, 0.96), (1.651, 0.93),
    (1.668, 0.90), (1.685, 0.93), (1.701, 0.96), (1.718, 1.01), (1.734, 1.06), (1.751, 1.05),
    (1.768, 1.04), (1.784, 1.06), (1.800, 1.04), (1.817, 1.06), (1.833, 1.08), (1.845, 1.10),
    (1.856, 1.11), (1.868, 1.06), (1.879, 1.01), (1.895, 0.98), (1.911, 0.96), (1.927, 0.94),
    (1.955, 0.88), (1.967, 0.85), (1.978, 0.87), (1.989, 0.82), (2.002, 0.83), (2.015, 0.79),
    (2.025, 0.78), (2.032, 0.71),
]

# ---------------- flares (red) ----------------
flares = {
    "f10": [(0.957, 11.22), (0.959, 11.78), (0.962, 11.78), (0.966, 11.17)],
    "f8": [(0.248, 10.24), (0.251, 11.40), (0.253, 11.40), (0.256, 10.52), (0.258, 10.30)],
    "f9": [(1.357, 10.35), (1.360, 11.30), (1.362, 11.30), (1.370, 10.24)],
    "f6": [(0.710, 9.10), (0.712, 9.78), (0.714, 9.78), (0.717, 9.14)],
    "f7": [(1.742, 9.01), (1.745, 9.55), (1.747, 9.55), (1.752, 9.05)],
    "f3": [(0.562, 8.16), (0.567, 8.80), (0.570, 8.80), (0.577, 8.11)],
    "f4": [(1.630, 8.25), (1.634, 8.83), (1.637, 8.83), (1.640, 8.16)],
    "f5": [(2.686, 8.22), (2.690, 9.05), (2.694, 9.05), (2.700, 8.22)],
    "f1": [(1.380, 7.10), (1.385, 7.85), (1.388, 7.85), (1.392, 7.12)],
    "f2": [(2.485, 7.27), (2.489, 8.06), (2.493, 8.06), (2.497, 7.26)],
    "v0701a": [(1.138, 6.15), (1.142, 6.60), (1.146, 6.20), (1.149, 6.58), (1.152, 6.14)],
    "v0701b": [(2.058, 5.85), (2.068, 6.05), (2.074, 6.24), (2.080, 6.00), (2.086, 6.06),
               (2.092, 5.98), (2.096, 5.98)],
    "lbc": [(1.276, 5.19), (1.280, 5.45), (1.284, 5.58), (1.288, 5.40), (1.292, 5.19)],
    "v0630a": [(1.270, 4.10), (1.278, 4.40), (1.283, 4.54), (1.287, 4.35), (1.293, 4.10)],
    "v0630b": [(2.277, 4.30), (2.283, 4.80), (2.287, 5.17), (2.291, 5.17), (2.295, 4.70),
               (2.300, 4.21)],
    "v0430": [(0.039, 1.73), (0.043, 1.80), (0.046, 1.86), (0.050, 2.03), (0.053, 1.80),
              (0.056, 1.75), (0.062, 1.76)],
    "v0429a": [(0.814, 1.14), (0.817, 2.13), (0.820, 2.13), (0.826, 1.06)],
    "v0429b": [(1.927, 0.94), (1.935, 0.95), (1.943, 0.94), (1.946, 1.40), (1.949, 1.43),
               (1.952, 0.95), (1.955, 0.88)],
}

# ---------------- labels ----------------
label_x = [1.855, 2.206, 2.100, 2.833, 2.884, 2.338, 1.492, 2.450, 1.768, 1.125, 2.051]
label_y = [11.23, 10.24, 9.23, 8.23, 7.24, 6.23, 5.25, 4.23, 3.22, 2.23, 1.03]
label_top = ["GUFI", "GUFI", "GUFI", "GUFI", "GUFI", "VATT 4K", "LBC", "VATT 4K",
             "VATT 4K", "VATT 4K", "VATT 4K"]
label_bottom = ["(2016-06-07)", "(2016-06-04)", "(2016-06-03)", "(2015-04-11)", "(2015-04-10)",
                "(2014-07-01)", "(2014-06-30)", "(2014-06-30)", "(2014-05-02)", "(2014-04-30)",
                "(2014-04-29)"]

flare_num = ["8", "10", "9", "6", "7", "3", "4", "5", "1", "2"]
flare_num_x = [0.222, 0.910, 1.331, 0.685, 1.720, 0.543, 1.608, 2.662, 1.360, 2.463]
flare_num_y = [10.87, 11.57, 10.87, 9.58, 9.58, 8.57, 8.57, 8.57, 7.58, 7.58]

# ---------------- assemble ----------------
solid_curves = {
    "gufi_20160607": gufi_20160607, "gufi_20160604": gufi_20160604,
    "gufi_20160603": gufi_20160603, "gufi_20150411": gufi_20150411,
    "gufi_20150410": gufi_20150410, "vatt_20140701": vatt_20140701,
    "vatt_20140502": vatt_20140502, "vatt_20140430": vatt_20140430,
    "vatt_20140429": vatt_20140429,
}
dashed_curves = {"lbc_20140630": lbc_20140630, "vatt_20140630": vatt_20140630}


def to_df(curves):
    rows = []
    for name, pts in curves.items():
        for i, (px, fy) in enumerate(pts):
            rows.append({"series": name, "phase": px, "flux": fy, "i": i})
    return pd.DataFrame(rows)


df_solid = to_df(solid_curves)
df_dashed = to_df(dashed_curves)
df_red = to_df(flares)
df_labels = pd.DataFrame({"phase": label_x, "flux": label_y,
                          "top": label_top, "bottom": label_bottom})
df_nums = pd.DataFrame({"phase": flare_num_x, "flux": flare_num_y, "num": flare_num})

FONT = "DejaVu Sans"
FS = 22

xscale = alt.Scale(domain=[0, 3.357], nice=False, zero=False)
yscale = alt.Scale(domain=[0.0587, 12.341], nice=False, zero=False)

x_axis = alt.Axis(values=[0, 0.5, 1.0, 1.5, 2.0, 2.5, 3.0], format=".1f", title="Orbital Phase",
                  grid=False, tickSize=7, labelPadding=6, titlePadding=2, labelFlush=False)
y_axis = alt.Axis(values=[2, 4, 6, 8, 10, 12], format="d", title="Relative Flux",
                  grid=False, tickSize=7, labelPadding=7, titlePadding=10, labelFlush=False)

X = alt.X("phase:Q", scale=xscale, axis=x_axis)
Y = alt.Y("flux:Q", scale=yscale, axis=y_axis)

solid = alt.Chart(df_solid).mark_line(color="black", strokeWidth=2.8, strokeJoin="round").encode(
    x=X, y=Y, detail="series:N", order="i:Q")
dashed = alt.Chart(df_dashed).mark_line(color="black", strokeWidth=2.8, strokeDash=[10, 4]).encode(
    x=X, y=Y, detail="series:N", order="i:Q")
red = alt.Chart(df_red).mark_line(color="#ff0000", strokeWidth=2.4).encode(
    x=X, y=Y, detail="series:N", order="i:Q")

top_txt = alt.Chart(df_labels).mark_text(align="left", baseline="middle", dy=-12.5,
                                         font=FONT, fontSize=FS, color="black").encode(
    x=X, y=Y, text="top:N")
bot_txt = alt.Chart(df_labels).mark_text(align="left", baseline="middle", dy=12.5,
                                         font=FONT, fontSize=FS, color="black").encode(
    x=X, y=Y, text="bottom:N")
num_txt = alt.Chart(df_nums).mark_text(align="center", baseline="middle",
                                       font=FONT, fontSize=FS, color="black").encode(
    x=X, y=Y, text="num:N")

chart = alt.layer(solid, dashed, red, top_txt, bot_txt, num_txt).properties(
    width=1044, height=1297,
    autosize=alt.AutoSizeParams(type="none"),
    padding={"left": 77, "top": 0, "right": 0, "bottom": 57},
    background="white",
).configure_view(
    stroke="black", strokeWidth=1.2
).configure_axis(
    labelFont=FONT, titleFont=FONT, labelFontSize=FS, titleFontSize=FS,
    labelColor="black", titleColor="black", tickColor="black", domainColor="black",
    titleFontWeight="normal", tickWidth=1.2, domainWidth=1.2,
)

chart.save("out.html", embed_options={"renderer": "svg", "actions": False})
